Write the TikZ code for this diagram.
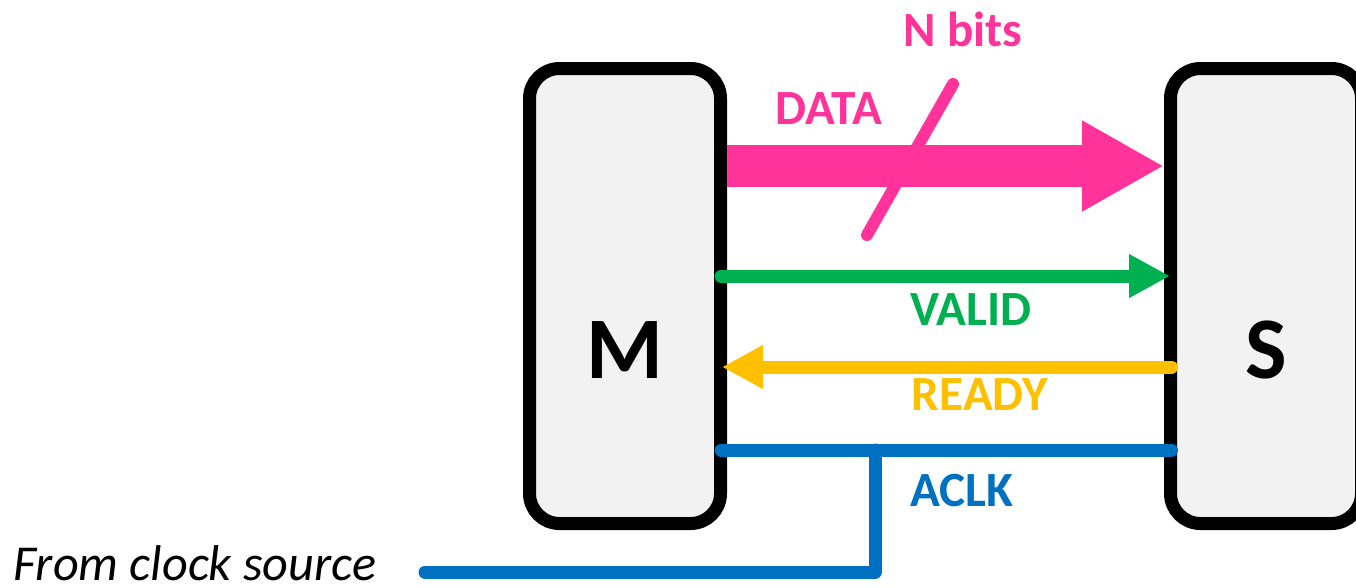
\documentclass[tikz,border=0pt]{standalone}
\usepackage{fontspec}
\setmainfont{Carlito}
\usetikzlibrary{arrows.meta,positioning,calc}
\definecolor{datapink}{HTML}{FF3399}
\definecolor{validgreen}{HTML}{00B050}
\definecolor{readyyellow}{HTML}{FFC000}
\definecolor{clkblue}{HTML}{0070C0}
\definecolor{boxgray}{HTML}{F2F2F2}

\begin{document}
\begin{tikzpicture}[x=0.1mm,y=-0.1mm,
    unit/.style={draw,line width=3.7pt,fill=boxgray,rounded corners=3mm,minimum width=19.1mm,minimum height=45.5mm,text height=16.5mm,font=\fontsize{25}{30}\selectfont\bfseries},
    sig/.style={line width=3.7pt,line cap=round},
    lbl/.style={inner sep=0,font=\fontsize{14}{17}\selectfont\bfseries}]
      \clip (0,0) rectangle (1356,587);
      \node[unit] (m) at (625,296) {M};
      \node[unit,right=43.7mm of m] (s) {S};
      % data bus
      \draw[datapink,line width=12.2pt,-{Triangle[width=8.5mm,length=8.2mm]}] (m.east |- 0,166)--(s.west |- 0,166);
      \draw[datapink,line width=3.4pt,line cap=round] (867,235)--(953,84);
      \node[lbl,text=datapink] (nbits) at (963,29) {N bits};
      \node[lbl,text=datapink] (data) at (829,109) {DATA};
      % handshake
      \draw[sig,validgreen,-{Triangle[width=4.1mm,length=4.1mm]},shorten <=-0.6mm,shorten >=-0.6mm] (m.east |- 0,276)--(s.west |- 0,276);
      \node[lbl,text=validgreen] (valid) at (971,310) {VALID};
      \draw[sig,readyyellow,-{Triangle[width=4.1mm,length=4.1mm]},shorten <=-0.75mm,shorten >=-0.5mm] (s.west |- 0,367)--(m.east |- 0,367);
      \node[lbl,text=readyyellow] (ready) at (980,395) {READY};
      % clock
      \draw[sig,clkblue,shorten <=-0.6mm,shorten >=-0.75mm] (m.east |- 0,450)--(s.west |- 0,450);
      \coordinate (tap) at (875,450);
      \coordinate (src) at (425,572);
      \draw[sig,clkblue,line join=round] (tap) |- (src);
      \node[lbl,text=clkblue] (aclk) at (962,491) {ACLK};
      \node[inner sep=0,anchor=base east,font=\fontsize{14.3}{17}\selectfont\itshape] (srclbl) at ($(src)+(-48,8)$) {From clock source};
    \end{tikzpicture}
\end{document}
